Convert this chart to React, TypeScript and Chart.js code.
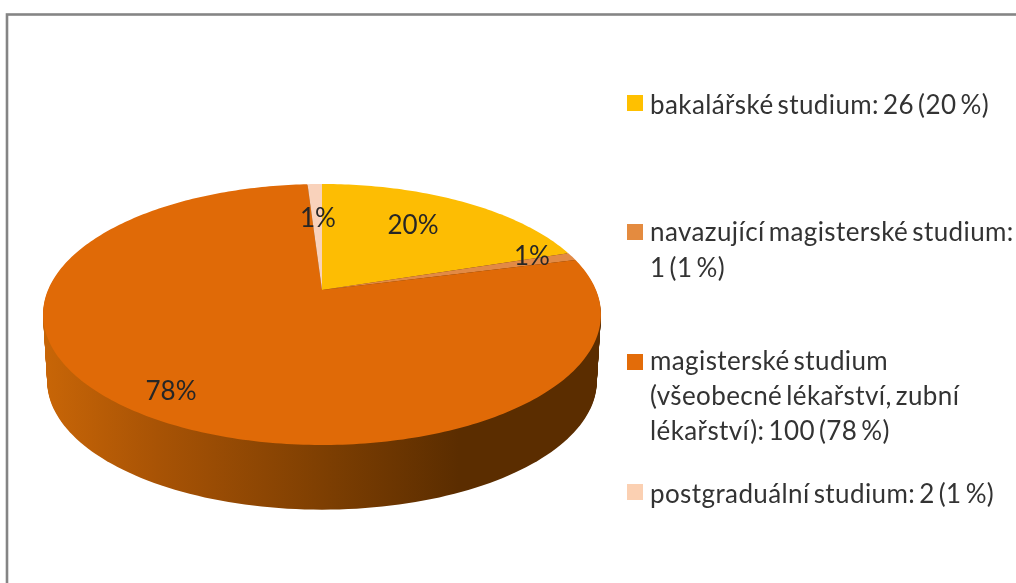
import React, { useEffect, useRef } from "react";
import { Chart, registerables } from "chart.js";

Chart.register(...registerables);

// Slices as drawn in the picture (percent shares)
const categories = ["bakalářské studium", "navazující magisterské studium", "magisterské studium", "postgraduální studium"];
const shares = [20, 1, 78, 1];
const sliceLabels = ["20%", "1%", "78%", "1%"];
const sliceColors = ["#FDBD03", "#E28A45", "#E06A07", "#F9D2BB"];
const swatchColors = ["#FFC000", "#E48B3F", "#E36C09", "#FBD0B2"];
const legendLines = [
  ["bakalářské studium: 26 (20 %)"],
  ["navazující magisterské studium:", "1 (1 %)"],
  ["magisterské studium", "(všeobecné lékařství, zubní", "lékařství): 100 (78 %)"],
  ["postgraduální studium: 2 (1 %)"],
];
// label anchors, as offset from the pie centre in units of the radius
const labelOffsets = [[0.332, -0.235], [0.766, -0.123], [-0.551, 0.372], [-0.015, -0.262]];
// legend layout
const legendX = 627;
const legendTextX = 650;
const legendBaselines = [[114], [241, 277], [370, 405, 440], [503]];
const swatchTops = [95, 224, 354, 484];

const TILT = 0.4595;
const PERSP = 0.1877;
const DEPTH = 67;
const BOTTOM_SCALE = 0.985;
const FONT = "Lato, Carlito, sans-serif";

function project(cx: number, cy: number, R: number, theta: number) {
  const u = Math.cos(theta);
  const v = -Math.sin(theta);
  const w = 1 + PERSP * v;
  return { x: cx + (R * u) / w, y: cy - (TILT * R * v) / w };
}

const perspectivePie = {
  id: "perspectivePie",
  beforeDraw(chart: any) {
    const { ctx } = chart;
    ctx.save();
    ctx.fillStyle = "#ffffff";
    ctx.fillRect(0, 0, chart.width, chart.height);
    ctx.strokeStyle = "#858585";
    ctx.lineWidth = 2.6;
    ctx.strokeRect(7, 14.5, chart.width + 40, chart.height + 40);
    ctx.restore();
  },
  beforeDatasetDraw(chart: any, args: any) {
    const { ctx } = chart;
    const arcs = chart.getDatasetMeta(args.index).data;
    const { x: cx, y: cy, outerRadius: R } = arcs[0];
    ctx.save();

    // side wall: the rim swept downwards through the depth of the pie
    const grad = ctx.createLinearGradient(cx - R, 0, cx + R, 0);
    grad.addColorStop(0, "#C76507");
    grad.addColorStop(0.2, "#A85305");
    grad.addColorStop(0.5, "#7E3F02");
    grad.addColorStop(0.75, "#5B2D00");
    grad.addColorStop(1, "#5B2D00");
    ctx.fillStyle = grad;
    const N = 240;
    for (let d = DEPTH; d > 0; d -= 1) {
      const k = 1 - ((1 - BOTTOM_SCALE) * d) / DEPTH;
      ctx.beginPath();
      for (let i = 0; i <= N; i++) {
        const p = project(cx, cy, R, (2 * Math.PI * i) / N);
        const px = cx + (p.x - cx) * k;
        const py = cy + (p.y - cy) * k + d;
        if (i === 0) ctx.moveTo(px, py);
        else ctx.lineTo(px, py);
      }
      ctx.closePath();
      ctx.fill();
    }

    // top face: each slice from the angles the library computed
    arcs.forEach((arc: any, i: number) => {
      ctx.fillStyle = sliceColors[i];
      ctx.beginPath();
      ctx.moveTo(cx, cy);
      const steps = Math.max(4, Math.ceil((arc.endAngle - arc.startAngle) * 60));
      for (let s = 0; s <= steps; s++) {
        const t = arc.startAngle + ((arc.endAngle - arc.startAngle) * s) / steps;
        const p = project(cx, cy, R, t);
        ctx.lineTo(p.x, p.y);
      }
      ctx.closePath();
      ctx.fill();
    });

    // slice labels
    ctx.fillStyle = "#262626";
    ctx.font = `26px ${FONT}`;
    ctx.textAlign = "center";
    ctx.textBaseline = "middle";
    arcs.forEach((_: any, i: number) => {
      ctx.fillText(sliceLabels[i], cx + labelOffsets[i][0] * R, cy + labelOffsets[i][1] * R);
    });
    ctx.restore();
    return false;
  },
  afterDraw(chart: any) {
    const { ctx } = chart;
    ctx.save();
    ctx.font = `26px ${FONT}`;
    ctx.textAlign = "left";
    ctx.textBaseline = "alphabetic";
    ctx.letterSpacing = "0.4px";
    ctx.wordSpacing = "-3px";
    legendLines.forEach((lines, i) => {
      const base = legendBaselines[i];
      ctx.fillStyle = swatchColors[i];
      ctx.fillRect(legendX, swatchTops[i], 16, 16);
      ctx.fillStyle = "#333333";
      lines.forEach((line, j) => ctx.fillText(line, legendTextX, base[j]));
    });
    ctx.restore();
  },
};

export default function App() {
  const ref = useRef<HTMLCanvasElement>(null);
  useEffect(() => {
    document.body.style.margin = "0";
    const chart = new Chart(ref.current!, {
      type: "pie",
      data: {
        labels: categories,
        datasets: [{ data: shares, backgroundColor: sliceColors, borderWidth: 0 }],
      },
      options: {
        animation: false,
        responsive: false,
        layout: { padding: { left: 48, right: 420, top: 16, bottom: 19 } },
        plugins: { legend: { display: false }, tooltip: { enabled: false } },
      },
      plugins: [perspectivePie],
    } as any);
    return () => chart.destroy();
  }, []);
  return <canvas ref={ref} width={1016} height={583} style={{ display: "block", filter: "blur(0.4px)" }} />;
}
